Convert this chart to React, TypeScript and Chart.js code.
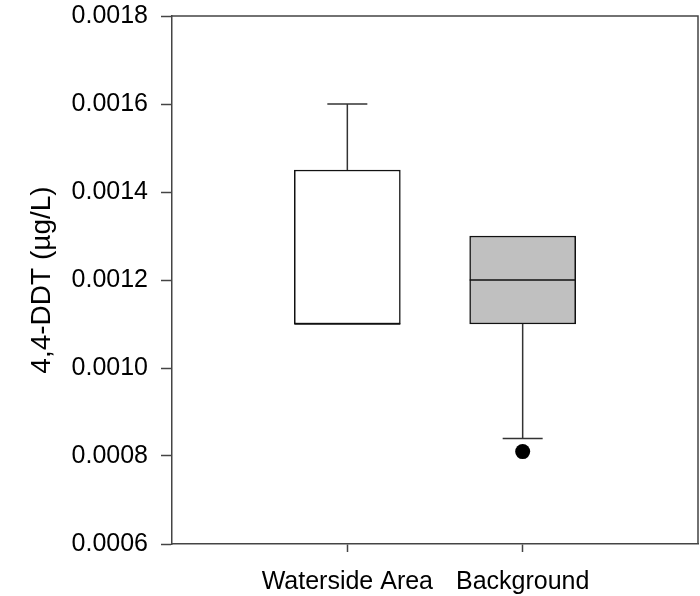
import React, { useEffect, useRef } from 'react';
import { Chart, registerables } from 'chart.js';

Chart.register(...registerables);

// ---- data ----
const categories = ['Waterside Area', 'Background'];
const mins = [0.0011, 0.00084];
const q1s = [0.0011, 0.0011];
const medians = [0.0011, 0.0012];
const q3s = [0.00145, 0.0013];
const maxs = [0.0016, 0.0013];
const outliers: number[][] = [[], [0.00081]];
const boxColors = ['#ffffff', '#c0c0c0'];
const yTicks = [0.0006, 0.0008, 0.001, 0.0012, 0.0014, 0.0016, 0.0018];
const yTitle = '4,4-DDT (\u00b5g/L)';

const FONT = "'Liberation Sans', Arial, sans-serif";

const framePlugin = {
  id: 'frame',
  afterDatasetsDraw(chart: any) {
    const { ctx, chartArea } = chart;
    ctx.save();
    ctx.strokeStyle = '#444';
    ctx.lineWidth = 1.5;
    ctx.beginPath();
    ctx.moveTo(chartArea.left, chartArea.top);
    ctx.lineTo(chartArea.right, chartArea.top);
    ctx.lineTo(chartArea.right, chartArea.bottom);
    ctx.stroke();
    ctx.restore();
  },
};

function zeroPad(scale: any) {
  scale.paddingTop = 0;
  scale.paddingBottom = 0;
  scale.paddingLeft = 0;
  scale.paddingRight = 0;
}

export default function App() {
  const ref = useRef<HTMLCanvasElement | null>(null);

  useEffect(() => {
    if (!ref.current) return;
    const labels = ['', ...categories, ' '];

    const boxData: any[] = [null, ...categories.map((_, i) => [q1s[i], q3s[i]]), null];
    const boxBg = ['#ffffff', ...boxColors, '#ffffff'];

    const whiskerSets: any[] = [];
    const capPoints: any[] = [];
    categories.forEach((c, i) => {
      if (maxs[i] > q3s[i]) {
        whiskerSets.push({
          type: 'line',
          order: 1,
          data: [{ x: c, y: q3s[i] }, { x: c, y: maxs[i] }],
          borderColor: '#333',
          borderWidth: 1.5,
          pointRadius: 0,
          fill: false,
        });
        capPoints.push({ x: c, y: maxs[i] });
      }
      if (mins[i] < q1s[i]) {
        whiskerSets.push({
          type: 'line',
          order: 1,
          data: [{ x: c, y: q1s[i] }, { x: c, y: mins[i] }],
          borderColor: '#333',
          borderWidth: 1.5,
          pointRadius: 0,
          fill: false,
        });
        capPoints.push({ x: c, y: mins[i] });
      }
    });

    const outlierPoints: any[] = [];
    categories.forEach((c, i) => outliers[i].forEach((v) => outlierPoints.push({ x: c, y: v })));

    const chart = new Chart(ref.current, {
      type: 'bar',
      data: {
        labels,
        datasets: [
          ...whiskerSets,
          {
            type: 'bar',
            order: 2,
            data: boxData,
            backgroundColor: boxBg,
            borderColor: '#111',
            borderWidth: 1.5,
            borderSkipped: false,
            barThickness: 106,
          },
          {
            type: 'line',
            order: 0,
            data: categories.map((c, i) => ({ x: c, y: medians[i] })),
            showLine: false,
            pointStyle: 'line',
            pointRadius: 53,
            pointBorderWidth: 1.5,
            pointBorderColor: '#111',
          },
          {
            type: 'line',
            order: 0,
            data: capPoints,
            showLine: false,
            pointStyle: 'line',
            pointRadius: 20,
            pointBorderWidth: 1.5,
            pointBorderColor: '#333',
          },
          {
            type: 'line',
            order: 0,
            data: outlierPoints,
            showLine: false,
            pointStyle: 'circle',
            pointRadius: 7.5,
            pointBackgroundColor: '#000',
            pointBorderColor: '#000',
            pointBorderWidth: 0,
          },
        ] as any,
      },
      options: {
        animation: false,
        responsive: false,
        maintainAspectRatio: false,
        layout: { autoPadding: false, padding: { top: 16, right: 2, left: 0, bottom: 0 } },
        plugins: { legend: { display: false }, tooltip: { enabled: false } },
        scales: {
          x: {
            type: 'category',
            offset: false,
            min: 0,
            max: 3,
            afterFit(scale: any) {
              scale.height = 52;
              zeroPad(scale);
            },
            grid: {
              offset: false,
              drawOnChartArea: false,
              drawTicks: true,
              tickLength: 8,
              tickWidth: 1.5,
              color: (ctx: any) =>
                ctx.index === 0 || ctx.index === labels.length - 1 ? 'rgba(0,0,0,0)' : '#444',
            },
            border: { display: true, color: '#444', width: 1.5 },
            ticks: {
              color: '#000',
              padding: 15,
              maxRotation: 0,
              autoSkip: false,
              font: { family: FONT, size: 25 },
            },
          },
          y: {
            type: 'linear',
            min: 0.0006,
            max: 0.0018,
            afterFit(scale: any) {
              scale.width = 172;
              zeroPad(scale);
            },
            afterBuildTicks(scale: any) {
              scale.ticks = yTicks.map((v) => ({ value: v }));
            },
            grid: {
              drawOnChartArea: false,
              drawTicks: true,
              tickLength: 11,
              tickWidth: 1.5,
              color: '#444',
            },
            border: { display: true, color: '#444', width: 1.5 },
            ticks: {
              color: '#000',
              padding: 13,
              font: { family: FONT, size: 25 },
              callback: (v: any) => Number(v).toFixed(4),
            },
            title: {
              display: true,
              text: yTitle,
              color: '#000',
              padding: { top: 25, bottom: 0 },
              font: { family: FONT, size: 28 },
            },
          },
        },
      },
      plugins: [framePlugin],
    });
    return () => chart.destroy();
  }, []);

  return (
    <div style={{ position: 'fixed', left: 0, top: 0, width: 700, height: 596, background: '#fff' }}>
      <canvas ref={ref} width={700} height={596} />
    </div>
  );
}
